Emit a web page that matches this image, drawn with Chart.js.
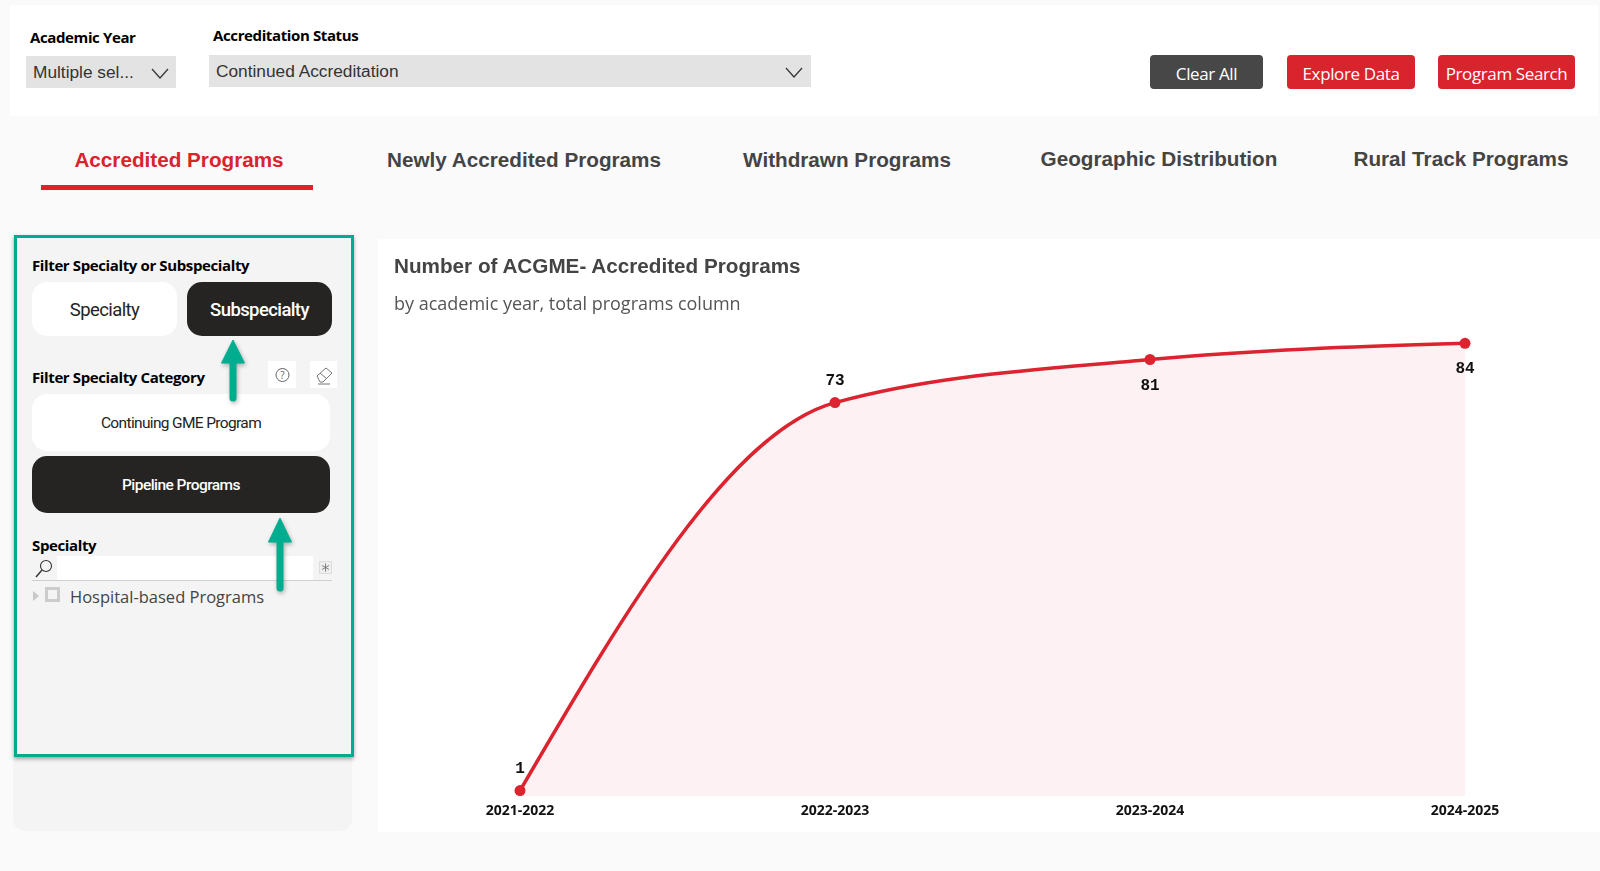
<!DOCTYPE html>
<html>
<head>
<meta charset="utf-8">
<title>Number of ACGME- Accredited Programs</title>
<script src="https://cdn.jsdelivr.net/npm/chart.js@4"></script>
<style>
html, body { margin: 0; padding: 0; width: 1600px; height: 871px; overflow: hidden; background: #fafafa; }
body { position: relative; font-family: "Open Sans", sans-serif; color: #000; }
.box { position: absolute; box-sizing: border-box; }
.txt { position: absolute; white-space: nowrap; line-height: 1; }
.lbl { font-weight: 700; font-size: 15px; color: #000; letter-spacing: -0.38px; }
.drop { background: #e3e3e3; color: #333; font-family: "Liberation Sans", sans-serif; font-size: 17.3px; }
.drop span { position: absolute; left: 7px; top: 50%; transform: translateY(-48%); white-space: nowrap; }
.drop svg { position: absolute; top: 12px; }
.btn { background: #d9232d; color: #fff; border-radius: 4px; text-align: center; font-size: 17px; line-height: 37px; letter-spacing: -0.38px; }
.tab { font-family: "Liberation Sans", sans-serif; font-weight: 700; font-size: 20.7px; color: #444; transform: translateX(-50%); }
.pill { background: #fff; color: #252423; border-radius: 15px; text-align: center; font-family: Roboto, sans-serif; letter-spacing: -0.6px; }
.pill.on { background: #252423; color: #fff; font-weight: 500; }
#wrap { position: absolute; left: 378px; top: 239px; width: 1222px; height: 593px; background: #fff; }
</style>
</head>
<body>
<div class="box" style="left:10px;top:5px;width:1588px;height:111px;background:#fff"></div>

<div class="txt lbl" style="left:30px;top:30px">Academic Year</div>
<div class="box drop" style="left:26px;top:56px;width:150px;height:32px">
  <span>Multiple sel...</span>
  <svg style="left:125px" width="18" height="12"><path d="M1 1 L9 10 L17 1" fill="none" stroke="#333" stroke-width="1.2"/></svg>
</div>
<div class="txt lbl" style="left:213px;top:28px">Accreditation Status</div>
<div class="box drop" style="left:209px;top:55px;width:602px;height:32px">
  <span>Continued Accreditation</span>
  <svg style="left:576px" width="18" height="12"><path d="M1 1 L9 10 L17 1" fill="none" stroke="#333" stroke-width="1.2"/></svg>
</div>
<div class="box btn" style="left:1150px;top:55px;width:113px;height:34px;background:#474747">Clear All</div>
<div class="box btn" style="left:1287px;top:55px;width:128px;height:34px">Explore Data</div>
<div class="box btn" style="left:1438px;top:55px;width:137px;height:34px">Program Search</div>

<div class="txt tab" style="left:179px;top:150px;color:#d9232d">Accredited Programs</div>
<div class="txt tab" style="left:524px;top:150px">Newly Accredited Programs</div>
<div class="txt tab" style="left:847px;top:150px">Withdrawn Programs</div>
<div class="txt tab" style="left:1159px;top:149px">Geographic Distribution</div>
<div class="txt tab" style="left:1461px;top:149px">Rural Track Programs</div>
<div class="box" style="left:41px;top:185px;width:272px;height:5px;background:#d9232d"></div>

<!-- left filter panel -->
<div class="box" style="left:13px;top:235px;width:339px;height:596px;background:#f4f4f4;border-radius:0 0 12px 12px"></div>
<div class="box" style="left:14px;top:235px;width:340px;height:522px;border:3px solid #00ac8f;background:#f4f4f4;box-shadow:0 2px 4px rgba(0,0,0,.35)"></div>

<div class="txt lbl" style="left:32px;top:258px">Filter Specialty or Subspecialty</div>
<div class="box pill" style="left:32px;top:282px;width:145px;height:54px;line-height:57px;font-size:18.5px">Specialty</div>
<div class="box pill on" style="left:187px;top:282px;width:145px;height:54px;line-height:57px;font-size:18.5px">Subspecialty</div>

<div class="txt lbl" style="left:32px;top:370px">Filter Specialty Category</div>
<div class="box" style="left:268px;top:361px;width:28px;height:27px;background:#fff">
  <svg width="28" height="27"><circle cx="14.5" cy="14" r="6.500" fill="none" stroke="#666" stroke-width="1"/><text x="14.5" y="18" text-anchor="middle" font-size="10" font-family="Open Sans" fill="#666">?</text></svg>
</div>
<div class="box" style="left:310px;top:361px;width:27px;height:27px;background:#fff">
  <svg width="27" height="27"><path d="M7 15 L16 7 L22 12 L13 21 L10 21 Z M10 12 L17 18 M8 23 L20 23" fill="none" stroke="#777" stroke-width="1"/></svg>
</div>
<div class="box pill" style="left:32px;top:394px;width:298px;height:57px;line-height:58px;font-size:15.5px;letter-spacing:-0.65px">Continuing GME Program</div>
<div class="box pill on" style="left:32px;top:456px;width:298px;height:57px;line-height:58px;font-size:15.5px;letter-spacing:-0.55px">Pipeline Programs</div>

<div class="txt lbl" style="left:32px;top:538px">Specialty</div>
<div class="box" style="left:57px;top:556px;width:256px;height:24px;background:#fff"></div>
<div class="box" style="left:32px;top:580px;width:300px;height:1px;background:#d0d0d0"></div>
<svg class="box" style="left:34px;top:558px" width="20" height="22"><circle cx="12" cy="8" r="5.5" fill="none" stroke="#333" stroke-width="1.1"/><path d="M8 12 L2 19" stroke="#333" stroke-width="1.4"/></svg>
<svg class="box" style="left:319px;top:561px" width="14" height="14"><rect x="0.5" y="0.5" width="12" height="12" fill="#eee" stroke="#ddd"/><path d="M6.5 2.5 V10.5 M3 4.5 L10 8.5 M10 4.5 L3 8.5" stroke="#666" stroke-width=".8"/></svg>
<svg class="box" style="left:33px;top:591px" width="7" height="11"><path d="M0 0 L6 5 L0 10 Z" fill="#c8c8c8"/></svg>
<div class="box" style="left:45px;top:587px;width:15px;height:15px;border:3px solid #ccc"></div>
<div class="txt" style="left:70px;top:589px;font-size:16.5px;color:#444">Hospital-based Programs</div>

<svg class="box" style="left:215px;top:335px;overflow:visible" width="80" height="265">
  <g fill="#00ae8f" stroke="#00ae8f" style="filter:drop-shadow(1px 2px 2px rgba(0,0,0,.3))">
    <path d="M18 5 L6.500 28 L29.500 28 Z"/>
    <path d="M18 26 V63" stroke-width="7" stroke-linecap="round" fill="none"/>
    <path d="M65 183 L53.500 207 L76.500 207 Z"/>
    <path d="M65 205 V253" stroke-width="7" stroke-linecap="round" fill="none"/>
  </g>
</svg>

<!-- chart card -->
<div id="wrap"><canvas id="chart" width="1222" height="593"></canvas></div>
<div class="txt" style="left:394px;top:256px;font-family:'Liberation Sans',sans-serif;font-weight:700;font-size:20.7px;color:#444">Number of ACGME- Accredited Programs</div>
<div class="txt" style="left:394px;top:294px;font-size:18px;color:#555">by academic year, total programs column</div>

<script>
const years = ["2021-2022", "2022-2023", "2023-2024", "2024-2025"];
const programs = [1, 73, 81, 84];
const labelSides = ["top", "top", "bottom", "bottom"];
const RED = "#dc2330";

// values over the points, 73 and 1 sit above, 81 and 84 below
const pointLabels = {
    id: "pointLabels",
    afterDatasetsDraw(chart) {
        const ctx = chart.ctx;
        ctx.save();
        ctx.font = "bold 16px 'Liberation Mono'";
        ctx.fillStyle = "#111";
        ctx.textAlign = "center";
        ctx.textBaseline = "middle";
        chart.getDatasetMeta(0).data.forEach((pt, i) => {
            const dy = labelSides[i] === "top" ? -22 : 26;
            ctx.fillText(String(programs[i]), pt.x, pt.y + dy);
        });
        ctx.restore();
    }
};

// chart.js monotone bends too late at the start, so recompute the tangents
// the way a monotone-x curve does (steep first segment, no overshoot)
const monotoneTangents = {
    id: "monotoneTangents",
    afterDatasetsUpdate(chart) {
        const meta = chart.getDatasetMeta(0);
        const pts = meta.data;
        meta.dataset.updateControlPoints(chart.chartArea, "x");
        const slopes = [];
        for (let i = 0; i < pts.length - 1; i++) {
            slopes.push((pts[i + 1].y - pts[i].y) / (pts[i + 1].x - pts[i].x));
        }
        const tangents = pts.map(() => 0);
        for (let i = 1; i < pts.length - 1; i++) {
            const a = slopes[i - 1], b = slopes[i];
            tangents[i] = (Math.sign(a) + Math.sign(b)) *
                Math.min(Math.abs(a), Math.abs(b), 0.25 * Math.abs(a + b));
        }
        const last = pts.length - 1;
        tangents[0] = (3 * slopes[0] - tangents[1]) / 2;
        tangents[last] = (3 * slopes[last - 1] - tangents[last - 1]) / 2;
        pts.forEach((pt, i) => {
            const h = (pts[Math.min(i + 1, last)].x - pts[Math.max(i - 1, 0)].x) / (i === 0 || i === last ? 3 : 6);
            pt.cp1x = pt.x - h;
            pt.cp1y = pt.y - tangents[i] * h;
            pt.cp2x = pt.x + h;
            pt.cp2y = pt.y + tangents[i] * h;
        });
    }
};

new Chart(document.getElementById("chart"), {
    type: "line",
    data: {
        labels: years,
        datasets: [{
            data: programs,
            borderColor: RED,
            borderWidth: 3.5,
            backgroundColor: "rgba(232,40,80,0.065)",
            fill: "origin",
            cubicInterpolationMode: "monotone",
            pointRadius: 5.5,
            pointBackgroundColor: RED,
            pointBorderWidth: 0,
            clip: false
        }]
    },
    options: {
        responsive: false,
        animation: false,
        events: [],
        layout: { padding: { left: 142, right: 135, top: 72, bottom: 0 } },
        plugins: { legend: { display: false }, tooltip: { enabled: false } },
        scales: {
            x: {
                offset: false,
                grid: { display: false, tickLength: 0 },
                border: { display: false },
                afterFit(scale) { scale.height = 36; },
                ticks: {
                    color: "#111",
                    font: { family: "Open Sans", weight: "bold", size: 14 },
                    padding: 7,
                    maxRotation: 0
                }
            },
            y: { display: false, min: 0, max: 90 }
        }
    },
    plugins: [monotoneTangents, pointLabels]
});
</script>
</body>
</html>
